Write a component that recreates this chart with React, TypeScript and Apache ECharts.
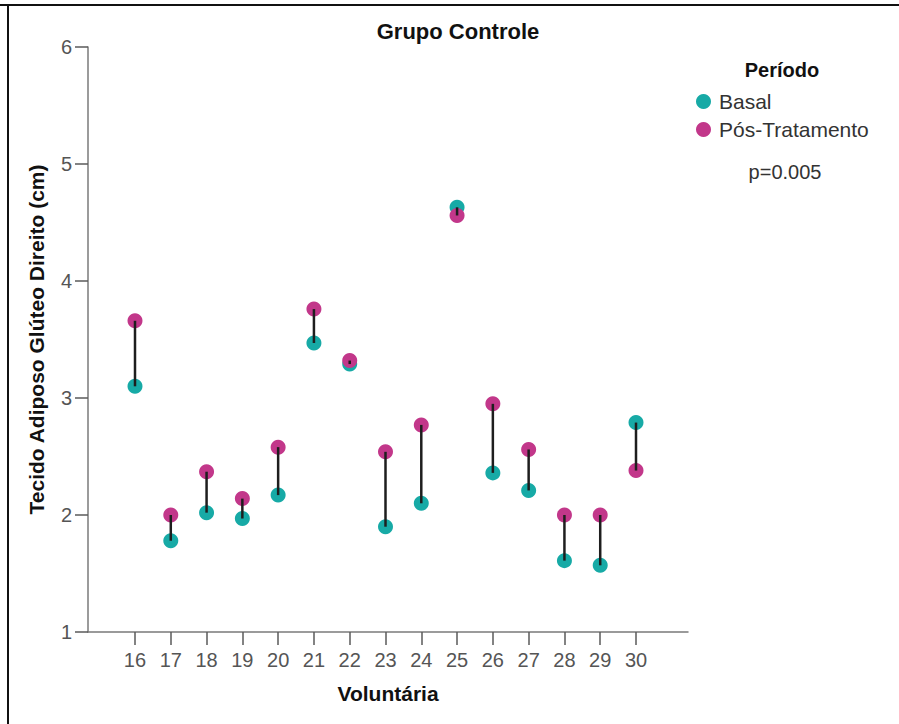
import React, { useEffect, useRef } from "react";
import * as echarts from "echarts";

const voluntarias = [16, 17, 18, 19, 20, 21, 22, 23, 24, 25, 26, 27, 28, 29, 30];
const basal = [3.1, 1.78, 2.02, 1.97, 2.17, 3.47, 3.29, 1.9, 2.1, 4.63, 2.36, 2.21, 1.61, 1.57, 2.79];
const posTratamento = [3.66, 2.0, 2.37, 2.14, 2.58, 3.76, 3.32, 2.54, 2.77, 4.56, 2.95, 2.56, 2.0, 2.0, 2.38];
const yTicks = [1, 2, 3, 4, 5, 6];

const TEAL = "#17aaa6";
const MAGENTA = "#c2378a";
const FONT = "Liberation Sans, Arial, sans-serif";
const NARROW = "Liberation Sans Narrow, Liberation Sans, Arial, sans-serif";

export default function App() {
  const ref = useRef<HTMLDivElement>(null);
  useEffect(() => {
    document.body.style.margin = "0";
    if (!ref.current) return;
    const chart = echarts.init(ref.current, null, { renderer: "svg" });
    const basalData = voluntarias.map((v, i) => [v, basal[i]]);
    const posData = voluntarias.map((v, i) => [v, posTratamento[i]]);
    const pairData = voluntarias.map((v, i) => [v, basal[i], posTratamento[i]]);
    chart.setOption({
      animation: false,
      backgroundColor: "#ffffff",
      title: {
        text: "Grupo Controle",
        left: 458,
        top: 20,
        textAlign: "center",
        padding: 0,
        textStyle: { fontFamily: FONT, fontSize: 22, fontWeight: "bold", color: "#111" },
      },
      grid: { left: 88, right: 211, top: 47, bottom: 92, containLabel: false },
      legend: {
        orient: "vertical",
        left: 696,
        top: 91,
        padding: 0,
        itemWidth: 15,
        itemHeight: 15,
        itemGap: 7,
        icon: "circle",
        data: ["Basal", "Pós-Tratamento"],
        textStyle: { fontFamily: FONT, fontSize: 21, lineHeight: 20, color: "#333", padding: [0, 0, 0, 3] },
      },
      xAxis: {
        type: "value",
        min: 14.6867,
        max: 31.453,
        name: "Voluntária",
        nameLocation: "middle",
        nameGap: 51,
        nameTextStyle: { fontFamily: FONT, fontSize: 21, fontWeight: "bold", color: "#111" },
        axisLine: { show: true, onZero: false, lineStyle: { color: "#7a7a7a", width: 1.5 } },
        axisTick: { show: true, customValues: voluntarias, length: 13, lineStyle: { color: "#5a5a5a", width: 1.5 } },
        axisLabel: {
          show: true,
          customValues: voluntarias,
          formatter: (v: number) => String(Math.round(v)),
          fontFamily: NARROW,
          fontSize: 20,
          color: "#555",
          margin: 18,
        },
        splitLine: { show: false },
      },
      yAxis: {
        type: "value",
        min: 1,
        max: 6,
        interval: 1,
        name: "Tecido Adiposo Glúteo Direito (cm)",
        nameLocation: "middle",
        nameGap: 41,
        nameTextStyle: { fontFamily: FONT, fontSize: 21, fontWeight: "bold", color: "#111" },
        axisLine: { show: true, lineStyle: { color: "#7a7a7a", width: 1.5 } },
        axisTick: { show: true, length: 13, lineStyle: { color: "#5a5a5a", width: 1.5 } },
        axisLabel: {
          formatter: (v: number) => (yTicks.includes(v) ? String(v) : ""),
          fontFamily: NARROW,
          fontSize: 20,
          color: "#555",
          margin: 16,
        },
        splitLine: { show: false },
      },
      series: [
        {
          name: "Basal",
          type: "scatter",
          data: basalData,
          symbol: "circle",
          symbolSize: 15,
          itemStyle: { color: TEAL, opacity: 1 },
          z: 2,
        },
        {
          name: "Pós-Tratamento",
          type: "scatter",
          data: posData,
          symbol: "circle",
          symbolSize: 15,
          itemStyle: { color: MAGENTA, opacity: 1 },
          z: 3,
        },
        {
          name: "pares",
          type: "custom",
          data: pairData,
          encode: { x: 0, y: [1, 2] },
          z: 5,
          silent: true,
          renderItem: (params: any, api: any) => {
            const p1 = api.coord([api.value(0), api.value(1)]);
            const p2 = api.coord([api.value(0), api.value(2)]);
            return {
              type: "line",
              shape: { x1: p1[0], y1: p1[1], x2: p2[0], y2: p2[1] },
              style: { stroke: "#1e1e1e", lineWidth: 2.5 },
            };
          },
        },
      ],
      graphic: [
        { type: "line", shape: { x1: 0, y1: 5, x2: 899, y2: 5 }, style: { stroke: "#111", lineWidth: 2 }, silent: true },
        { type: "line", shape: { x1: 8, y1: 5, x2: 8, y2: 724 }, style: { stroke: "#111", lineWidth: 2 }, silent: true },
        {
          type: "text",
          x: 782,
          y: 70,
          style: { text: "Período", fontFamily: FONT, fontSize: 20, fontWeight: "bold", fill: "#111", align: "center", verticalAlign: "middle" },
        },
        {
          type: "text",
          x: 785,
          y: 172,
          style: { text: "p=0.005", fontFamily: FONT, fontSize: 20, fill: "#333", align: "center", verticalAlign: "middle" },
        },
      ],
    });
    return () => chart.dispose();
  }, []);
  return <div ref={ref} style={{ width: 899, height: 724 }} />;
}
